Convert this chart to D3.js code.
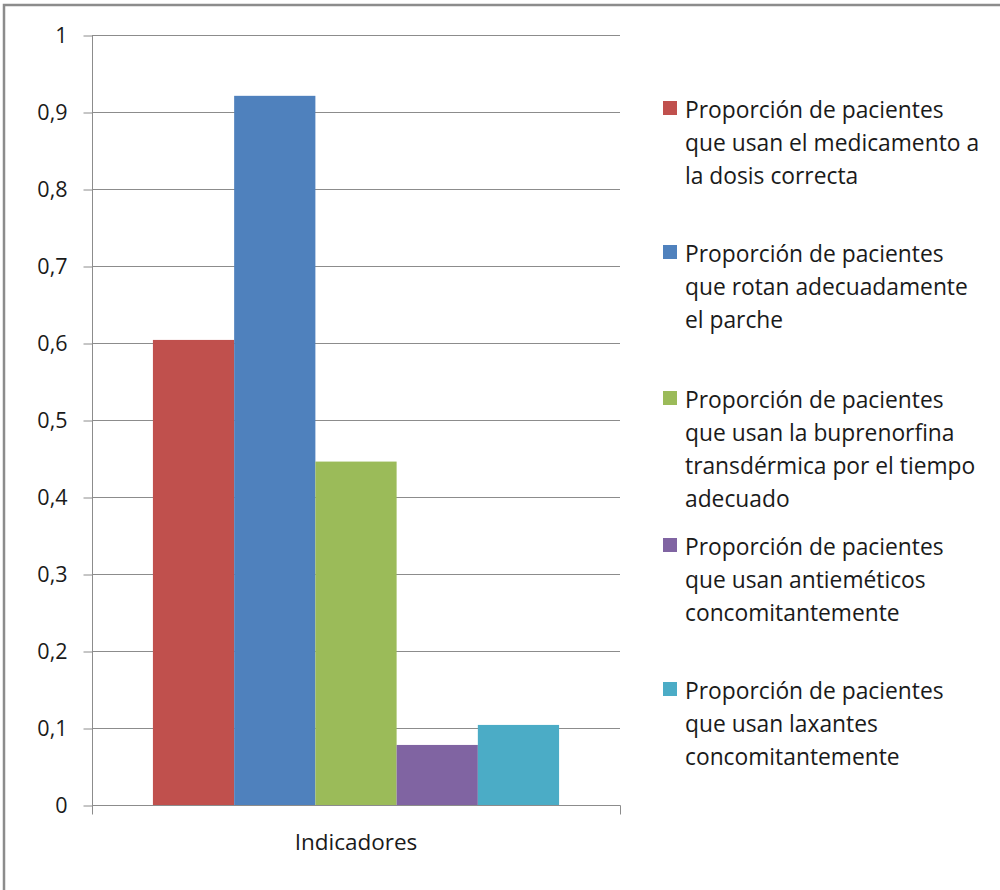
<!DOCTYPE html>
<html>
<head>
<meta charset="utf-8">
<script src="https://cdn.jsdelivr.net/npm/d3@7"></script>
<style>
  html, body { margin: 0; padding: 0; background: #fff; }
  svg { display: block; }
  text { font-family: "Open Sans", sans-serif; fill: #1a1a1a; }
</style>
</head>
<body>
<script>
// Indicadores de uso de buprenorfina transdérmica
const category = ["Indicadores"];
const seriesNames = [
  ["Proporción de pacientes", "que usan el medicamento a", "la dosis correcta"],
  ["Proporción de pacientes", "que rotan adecuadamente", "el parche"],
  ["Proporción de pacientes", "que usan la buprenorfina", "transdérmica por el tiempo", "adecuado"],
  ["Proporción de pacientes", "que usan antieméticos", "concomitantemente"],
  ["Proporción de pacientes", "que usan laxantes", "concomitantemente"]
];
const values = [0.604, 0.921, 0.446, 0.078, 0.104];
const colors = ["#C0504D", "#4F81BD", "#9BBB59", "#8064A2", "#4BACC6"];
const yTicks = [0, 0.1, 0.2, 0.3, 0.4, 0.5, 0.6, 0.7, 0.8, 0.9, 1];
const legendBaselines = [118, 262, 408, 555, 699];

const W = 1000, H = 890;
const svg = d3.select("body").append("svg").attr("width", W).attr("height", H);

// outer frame
svg.append("rect").attr("x", 4).attr("y", 5).attr("width", W + 10).attr("height", H + 10)
  .attr("fill", "none").attr("stroke", "#8c8c8c").attr("stroke-width", 2.5);

const plotL = 92, plotR = 620, plotT = 35, plotB = 805;

const y = d3.scaleLinear().domain([0, 1]).range([plotB, plotT]);
const x0 = d3.scaleBand().domain(category).range([plotL, plotR]).paddingInner(0).paddingOuter(0.15);
const x1 = d3.scaleBand().domain(d3.range(values.length)).range([0, x0.bandwidth()]);

// gridlines
svg.append("g").selectAll("line").data(yTicks.filter(d => d > 0)).join("line")
  .attr("x1", plotL).attr("x2", plotR)
  .attr("y1", d => Math.round(y(d)) + 0.5).attr("y2", d => Math.round(y(d)) + 0.5)
  .attr("stroke", "#8c8c8c").attr("stroke-width", 1);

// y axis
const yAxis = d3.axisLeft(y).tickValues(yTicks).tickSize(9).tickPadding(16)
  .tickFormat(d => d === 0 ? "0" : d === 1 ? "1" : d3.format(".1f")(d).replace(".", ","));
const gy = svg.append("g").attr("transform", `translate(${plotL + 0.5},0.5)`).call(yAxis);
gy.select(".domain").attr("d", `M0,${plotT}V${plotB + 9}`).attr("stroke", "#8c8c8c");
gy.selectAll(".tick line").attr("stroke", "#8c8c8c");
gy.selectAll(".tick text").attr("font-size", 21.5).attr("fill", "#1a1a1a")
  .attr("font-family", "'Open Sans', sans-serif");

// bars
const g = svg.append("g").attr("transform", `translate(${x0(category[0])},0)`);
g.selectAll("rect").data(values).join("rect")
  .attr("x", (d, i) => x1(i))
  .attr("width", x1.bandwidth())
  .attr("y", d => y(d))
  .attr("height", d => y(0) - y(d))
  .attr("fill", (d, i) => colors[i]);

// x axis
const xAxis = d3.axisBottom(x0).tickSize(0).tickPadding(29);
const gx = svg.append("g").attr("transform", `translate(0,${plotB + 0.5})`).call(xAxis);
gx.select(".domain").attr("d", `M${plotL + 0.5},0H${plotR + 0.5}V9`).attr("stroke", "#8c8c8c");
gx.selectAll(".tick text").attr("font-size", 22.5).attr("fill", "#1a1a1a")
  .attr("font-family", "'Open Sans', sans-serif");

// legend
const lg = svg.append("g");
seriesNames.forEach((lines, i) => {
  const b = legendBaselines[i];
  lg.append("rect").attr("x", 663).attr("y", b - 17).attr("width", 14).attr("height", 14)
    .attr("fill", colors[i]);
  const t = lg.append("text").attr("x", 685).attr("y", b).attr("font-size", 22.8);
  lines.forEach((ln, j) => {
    t.append("tspan").attr("x", 685).attr("y", b + j * 33).text(ln);
  });
});
</script>
</body>
</html>
